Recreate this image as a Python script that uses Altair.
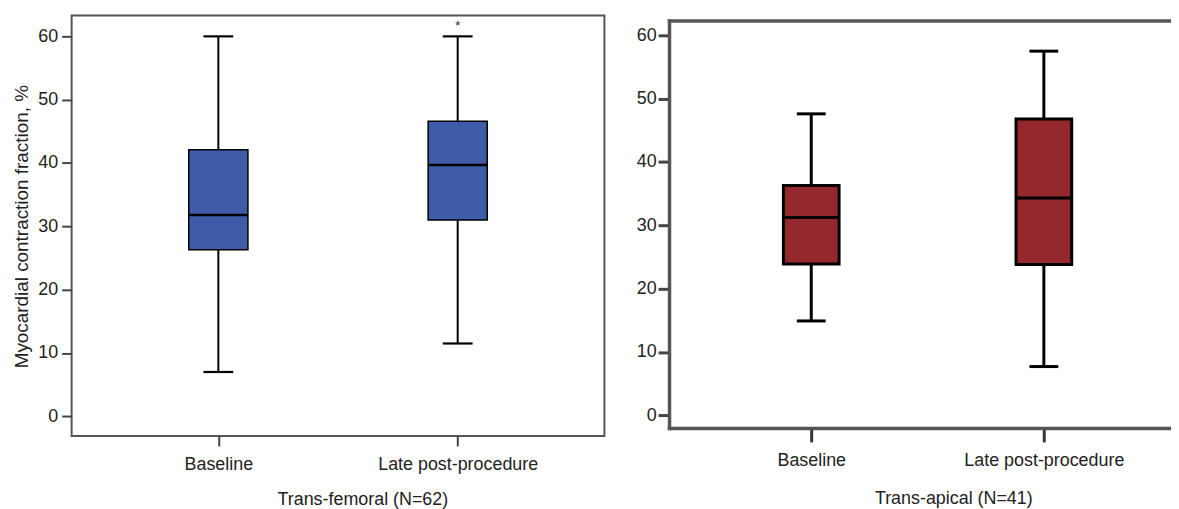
import altair as alt
import pandas as pd

# ---------------- data ----------------
categories = ["Baseline", "Late post-procedure"]

tf_low = [7.0, 11.5]
tf_q1 = [26.3, 31.0]
tf_median = [31.8, 39.7]
tf_q3 = [42.1, 46.6]
tf_high = [60.0, 60.0]

ta_low = [14.9, 7.7]
ta_q1 = [23.9, 23.8]
ta_median = [31.25, 34.3]
ta_q3 = [36.3, 46.8]
ta_high = [47.6, 57.5]

y_ticks = [0, 10, 20, 30, 40, 50, 60]

sig_category = ["Late post-procedure"]
sig_value = [61.6]
sig_text = ["*"]

tf_title = "Trans-femoral (N=62)"
ta_title = "Trans-apical (N=41)"
y_title = "Myocardial contraction fraction, %"

FONT = "Liberation Sans"
BLUE = "#3F5CA9"
RED = "#94282C"

tf = pd.DataFrame({"cat": categories, "low": tf_low, "q1": tf_q1,
                   "med": tf_median, "q3": tf_q3, "high": tf_high})
ta = pd.DataFrame({"cat": categories, "low": ta_low, "q1": ta_q1,
                   "med": ta_median, "q3": ta_q3, "high": ta_high})
sig = pd.DataFrame({"cat": sig_category, "v": sig_value, "t": sig_text})

# ---------------- left panel ----------------
xl_scale = alt.Scale(type="point", domain=categories, padding=0.613, align=0.5)
yl_scale = alt.Scale(domain=[-3.1, 63.3], nice=False, zero=False)

xl_axis = alt.Axis(
    title=tf_title, domain=False, tickSize=10, tickWidth=2, tickColor="#444",
    labelFont=FONT, labelFontSize=18, labelColor="#222", labelPadding=10, labelAngle=0,
    titleFont=FONT, titleFontSize=18, titleFontWeight="normal", titleColor="#222",
    titleX=292.5, titleY=64, titleAlign="center", titleBaseline="middle", titleAngle=0,
    grid=False,
)
yl_axis = alt.Axis(
    values=y_ticks, title=y_title, domain=False, tickSize=10, tickWidth=2, tickColor="#444",
    labelFont=FONT, labelFontSize=18, labelColor="#222", labelPadding=4,
    titleFont=FONT, titleFontSize=19, titleFontWeight="normal", titleColor="#222",
    titleX=-50, titleY=212, titleAlign="center", titleBaseline="middle", titleAngle=270,
    grid=False,
)

def xl():
    return alt.X("cat:N", scale=xl_scale, axis=xl_axis)

def yl(field):
    return alt.Y(f"{field}:Q", scale=yl_scale, axis=yl_axis)

l_whisk = alt.Chart(tf).mark_rule(color="black", strokeWidth=2).encode(
    x=xl(), y=yl("low"), y2="high")
l_box = alt.Chart(tf).mark_bar(size=59.5, color=BLUE, stroke="black", strokeWidth=1.5,
                               opacity=1).encode(x=xl(), y=yl("q1"), y2="q3")
l_med = alt.Chart(tf).mark_tick(size=59.5, thickness=2.5, color="black", opacity=1).encode(
    x=xl(), y=yl("med"))
l_cap_lo = alt.Chart(tf).mark_tick(size=30, thickness=2.2, color="black", opacity=1).encode(
    x=xl(), y=yl("low"))
l_cap_hi = alt.Chart(tf).mark_tick(size=30, thickness=2.2, color="black", opacity=1).encode(
    x=xl(), y=yl("high"))
l_sig = alt.Chart(sig).mark_text(font=FONT, fontSize=13, color="#222", baseline="middle").encode(
    x=xl(), y=yl("v"), text="t:N")

left = alt.layer(l_whisk, l_box, l_med, l_cap_lo, l_cap_hi, l_sig).properties(
    width=536, height=423,
    view=alt.ViewBackground(stroke="#555", strokeWidth=2),
)

# ---------------- right panel ----------------
xr_scale = alt.Scale(type="point", domain=categories, padding=0.579, align=0.528)
yr_scale = alt.Scale(domain=[-2.0, 62.35], nice=False, zero=False)

xr_axis = alt.Axis(
    title=ta_title, domain=True, domainColor="#555", domainWidth=3.5, domainCap="square",
    tickSize=14, tickWidth=3, tickColor="#333",
    labelFont=FONT, labelFontSize=18, labelColor="#222", labelPadding=10, labelAngle=0,
    titleFont=FONT, titleFontSize=18, titleFontWeight="normal", titleColor="#222",
    titleX=286, titleY=71, titleAlign="center", titleBaseline="middle", titleAngle=0,
    grid=False,
)
xr_top = alt.Axis(
    orient="top", title=None, domain=True, domainColor="#555", domainWidth=3.5,
    domainCap="square", ticks=False, labels=False, grid=False,
)
yr_axis = alt.Axis(
    values=y_ticks, title=None, domain=True, domainColor="#555", domainWidth=3.5,
    domainCap="square", tickSize=11, tickWidth=3, tickColor="#444",
    labelFont=FONT, labelFontSize=18, labelColor="#222", labelPadding=2,
    minExtent=34, maxExtent=34, grid=False,
)

def xr(axis):
    return alt.X("cat:N", scale=xr_scale, axis=axis)

def yr(field):
    return alt.Y(f"{field}:Q", scale=yr_scale, axis=yr_axis)

r_whisk = alt.Chart(ta).mark_rule(color="black", strokeWidth=3).encode(
    x=xr(xr_axis), y=yr("low"), y2="high")
r_box = alt.Chart(ta).mark_bar(size=56, color=RED, stroke="black", strokeWidth=3,
                               opacity=1).encode(x=xr(xr_top), y=yr("q1"), y2="q3")
r_med = alt.Chart(ta).mark_tick(size=56, thickness=3, color="black", opacity=1).encode(
    x=xr(None), y=yr("med"))
r_cap_lo = alt.Chart(ta).mark_tick(size=29, thickness=3, color="black", opacity=1).encode(
    x=xr(None), y=yr("low"))
r_cap_hi = alt.Chart(ta).mark_tick(size=29, thickness=3, color="black", opacity=1).encode(
    x=xr(None), y=yr("high"))

right_main = alt.layer(r_whisk, r_box, r_med, r_cap_lo, r_cap_hi).resolve_axis(
    x="independent"
).properties(
    width=505, height=410,
    view=alt.ViewBackground(strokeWidth=0),
)

# invisible spacer that lowers the right panel's frame a little
spacer = alt.Chart(ta).mark_point(opacity=0).encode(
    x=alt.X("cat:N", scale=alt.Scale(type="point", domain=categories), axis=None)
).properties(width=505, height=1, view=alt.ViewBackground(strokeWidth=0))

right = alt.vconcat(spacer, right_main, spacing=1)

chart = alt.hconcat(left, right, spacing=30).properties(
    padding={"left": 3, "top": 3, "right": 0, "bottom": 0},
    background="white",
).configure_view(strokeWidth=0)

chart.save("out.html", embed_options={"renderer": "svg", "actions": False})
